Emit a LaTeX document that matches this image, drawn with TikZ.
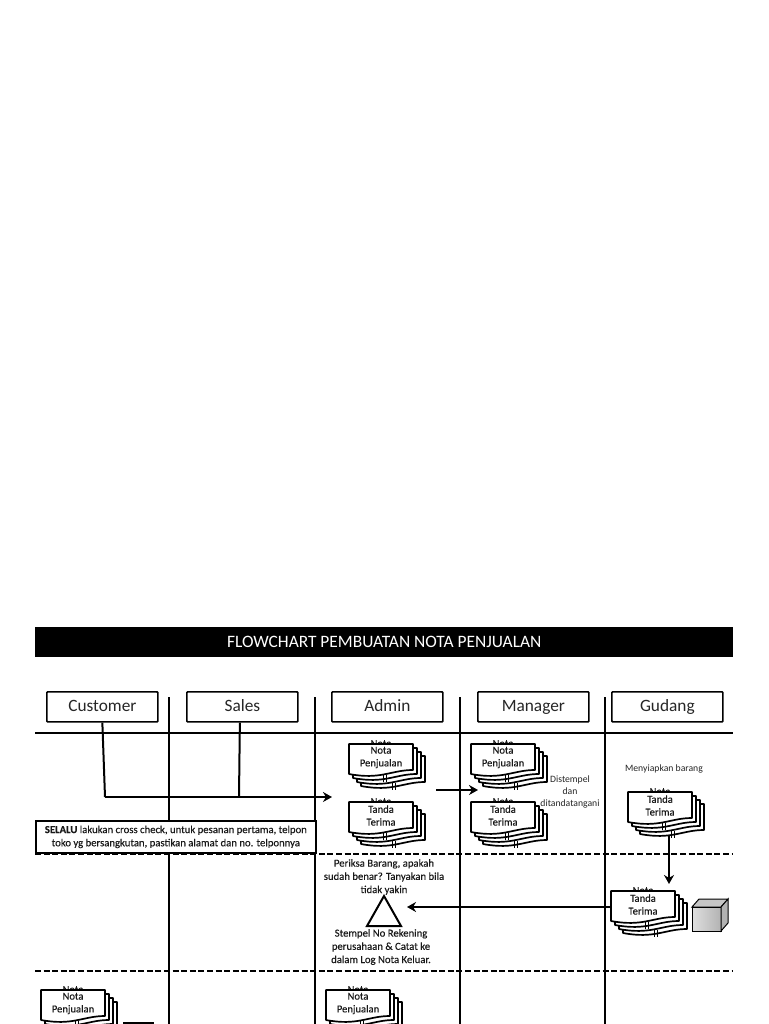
\documentclass[tikz,border=0pt]{standalone}
\usepackage{fontspec}
\setmainfont{Carlito}
\newfontfamily\semibf[FakeBold=0.25]{Carlito}
\usetikzlibrary{arrows.meta}
\tikzset{
  x=1pt,y=-1pt,
  laneline/.style={line width=2pt,black},
  dashline/.style={line width=2pt,black,dash pattern=on 6pt off 2.6pt},
  headbox/.style={draw,line width=1.7pt,fill=white,rounded corners=0.8pt,minimum width=111pt,minimum height=30pt,anchor=north west,inner sep=0pt,text height=12.5pt,text depth=2.5pt,font=\fontsize{17.3}{19}\selectfont,text=black!85},
  flowline/.style={line width=2pt,black},
  flowarrow/.style={line width=2pt,black,-{Stealth[length=9pt,width=10pt]}},
  doctext/.style={font=\semibf\fontsize{10.6}{12.8}\selectfont,align=center,inner sep=0pt,text=black!90},
  notetext/.style={font=\semibf\fontsize{10.7}{13.2}\selectfont,align=center,inner sep=0pt,text=black!90},
  smalltext/.style={font=\fontsize{9.7}{12}\selectfont,align=center,inner sep=0pt,text=black!85},
  docshape/.style={draw,line width=1.7pt,fill=white,line join=round}
}
\newcommand{\docpath}[2]{%
  \path[docshape] (#1,#2) -- (#1+64,#2) -- (#1+64,#2+26) .. controls (#1+42,#2+26) and (#1+32,#2+36) .. (#1,#2+30) -- cycle;}
\newcommand{\docstack}[4]{%
  \node[doctext] (#1peek) at (#2+32,#3-0.5) {Nota};
  \docpath{#2+12}{#3+12}
  \docpath{#2+8}{#3+8}
  \docpath{#2+4}{#3+4}
  \draw[line width=1pt] (#2+34,#3+31) -- ++(0,7) (#2+37,#3+31) -- ++(0,7) (#2+34,#3+34) -- ++(3,0)
    (#2+43,#3+39) -- ++(0,7) (#2+46,#3+39) -- ++(0,7) (#2+43,#3+42) -- ++(3,0);
  \docpath{#2}{#3}
  \node[doctext] (#1) at (#2+32,#3+13.5) {#4};}
\begin{document}
\begin{tikzpicture}
\useasboundingbox (0,0) rectangle (768,1024);
\clip (0,0) rectangle (768,1024);
\fill[white] (0,0) rectangle (768,1024);
\node[fill=black,text=white,minimum width=698pt,minimum height=30pt,anchor=north west,inner sep=0pt,font=\fontsize{17.4}{19}\selectfont] (title) at (35,627) {FLOWCHART PEMBUATAN NOTA PENJUALAN};

\coordinate (v1a) at (169,697); \coordinate (v1b) at (169,1024);
\coordinate (v2a) at (315,697); \coordinate (v2b) at (315,1024);
\coordinate (v3a) at (460,697); \coordinate (v3b) at (460,1024);
\coordinate (v4a) at (605,697); \coordinate (v4b) at (605,1024);
\coordinate (h0a) at (35,733); \coordinate (h0b) at (733,733);
\coordinate (h1a) at (35,854); \coordinate (h1b) at (733,854);
\coordinate (h2a) at (35,971); \coordinate (h2b) at (733,971);
\draw[laneline] (v1a)--(v1b) (v2a)--(v2b) (v3a)--(v3b) (v4a)--(v4b) (h0a)--(h0b);
\draw[dashline] (h1a)--(h1b) (h2a)--(h2b);

\node[headbox] (customer) at (46,691) {Customer};
\node[headbox] (sales) at (186,691) {Sales};
\node[headbox] (admin) at (331,691) {Admin};
\node[headbox] (manager) at (477,691) {Manager};
\node[headbox] (gudang) at (611,691) {Gudang};

\coordinate (bend) at (105,797);
\coordinate (salesjoin) at (239,797);
\coordinate (admintip) at (332,797);
\draw[flowline] (customer.south) -- (bend);
\draw[flowline] ([xshift=-2.5pt]sales.south) -- (salesjoin);
\draw[flowarrow] (bend) -- (admintip);

\node[draw,line width=1.7pt,fill=white,minimum width=280pt,minimum height=32pt,anchor=north west,notetext,inner sep=0pt] (note) at (35,820) {{\bfseries SELALU} lakukan cross check, untuk pesanan pertama, telpon\\toko yg bersangkutan, pastikan alamat dan no. telponnya};

\docstack{an}{349}{744}{Nota\\Penjualan}
\docstack{at}{349}{802}{Tanda\\Terima}
\docstack{mn}{471}{744}{Nota\\Penjualan}
\docstack{mt}{471}{802}{Tanda\\Terima}
\docstack{gt}{628}{792}{Tanda\\Terima}
\docstack{gb}{611}{891}{Tanda\\Terima}
\docstack{bc}{41}{990}{Nota\\Penjualan}
\docstack{ba}{326}{990}{Nota\\Penjualan}

\coordinate (m1) at (436,790); \coordinate (m2) at (478,790);
\draw[flowarrow] (m1) -- (m2);
\node[smalltext] (dist) at (570,792) {Distempel\\dan\\ditandatangani};
\node[smalltext] (siap) at (664,769) {Menyiapkan barang};

\coordinate (g1) at (669,836); \coordinate (g2) at (669,884);
\draw[flowarrow] (g1) -- (g2);

\node[notetext] (periksa) at (384,877) {Periksa Barang, apakah\\sudah benar? Tanyakan bila\\tidak yakin};
\node[notetext] (stempel) at (381,947) {Stempel No Rekening\\perusahaan \& Catat ke\\dalam Log Nota Keluar.};
\path[draw,line width=2pt,fill=white,line join=miter] (384,896) -- (401,926) -- (367,926) -- cycle;
\coordinate (tri) at (407,907); \coordinate (gbl) at (611,907);
\draw[flowarrow] (gbl) -- (tri);

\fill[gray!45,draw=black,line width=1pt] (692,907) -- (699,899) -- (728,899) -- (721,907) -- cycle;
\shade[left color=gray!25,right color=gray!60,draw=black,line width=1pt] (692,907) rectangle (721,931);
\fill[gray!60,draw=black,line width=1pt] (721,907) -- (728,899) -- (728,923) -- (721,931) -- cycle;

\node[draw,line width=1.7pt,fill=white,minimum width=29pt,minimum height=10pt,anchor=north west,inner sep=0pt] (botbox) at (123,1022) {};
\end{tikzpicture}
\end{document}
